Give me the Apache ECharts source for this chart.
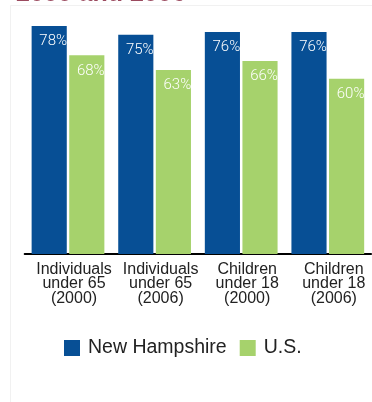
<!DOCTYPE html>
<html>
<head>
<meta charset="utf-8">
<script src="https://cdn.jsdelivr.net/npm/echarts@6/dist/echarts.min.js"></script>
<style>html,body{margin:0;padding:0;background:#fff}#c{width:372px;height:402px}</style>
</head>
<body>
<div id="c"></div>
<script>
const categories = ['Individuals\nunder 65\n(2000)', 'Individuals\nunder 65\n(2006)', 'Children\nunder 18\n(2000)', 'Children\nunder 18\n(2006)'];
const nhValues = [78, 75, 76, 76];
const usValues = [68, 63, 66, 60];
const seriesNames = ['New Hampshire', 'U.S.'];
const titleText = '2000 and 2006';

const chart = echarts.init(document.getElementById('c'), null, {renderer: 'canvas'});
const labelStyle = {
  show: true, position: 'insideTop', distance: 8, offset: [4, 0],
  color: '#ffffff', fontFamily: 'Roboto', fontSize: 15, fontWeight: 300,
  formatter: p => p.value + '%'
};
chart.setOption({
  animation: false,
  backgroundColor: '#ffffff',
  graphic: [{
    type: 'rect', shape: {x: 10.5, y: 5.5, width: 400, height: 420},
    style: {fill: 'none', stroke: '#f1f1f1', lineWidth: 1}, z: -1
  }],
  title: {
    text: titleText, left: 11, top: -23,
    textStyle: {color: '#9b4a5f', fontFamily: 'Liberation Sans', fontWeight: 'bold', fontSize: 25}
  },
  legend: {
    left: 59, top: 333, itemWidth: 16, itemHeight: 16, itemGap: 13,
    icon: 'rect',
    textStyle: {fontFamily: 'Liberation Sans', fontSize: 19.5, color: '#222', padding: [0, 0, 0, 3]}
  },
  grid: {left: 24.7, right: 0.9, top: 20.2, bottom: 148},
  xAxis: {
    type: 'category', data: categories,
    axisLine: {lineStyle: {color: '#000', width: 2}},
    axisTick: {show: false},
    axisLabel: {
      interval: 0, margin: 8, fontFamily: 'Liberation Sans', fontSize: 16,
      lineHeight: 14.5, color: '#222', padding: [0, 0, 0, 12]
    }
  },
  yAxis: {type: 'value', min: 0, max: 80, show: false, splitLine: {show: false}},
  series: [
    {name: seriesNames[0], type: 'bar', data: nhValues, barGap: '7%', barCategoryGap: '16%',
     itemStyle: {color: '#074f95'}, label: labelStyle},
    {name: seriesNames[1], type: 'bar', data: usValues,
     itemStyle: {color: '#a6d26c'}, label: labelStyle}
  ]
});
</script>
</body>
</html>
